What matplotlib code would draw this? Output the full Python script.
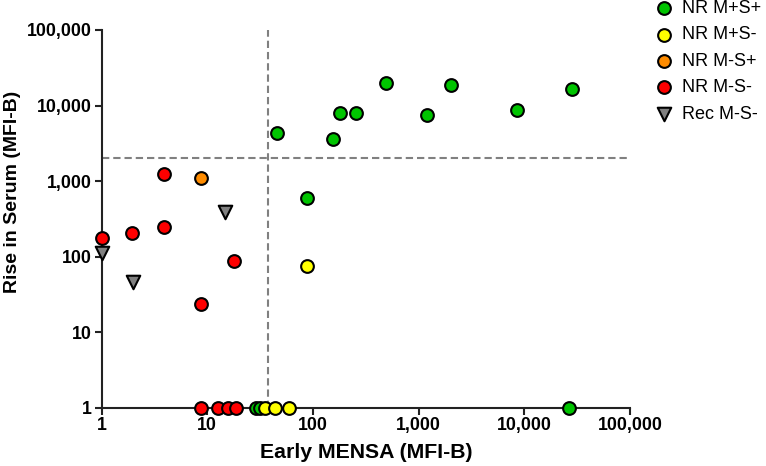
import matplotlib
matplotlib.use("Agg")
import matplotlib.pyplot as plt
from matplotlib.ticker import FixedLocator, FixedFormatter, NullLocator

plt.rcParams['font.family'] = ['Liberation Sans', 'DejaVu Sans']

# ---- data ----
series_labels = ["NR M+S+", "NR M+S-", "NR M-S+", "NR M-S-", "Rec M-S-"]
series_colors = ["#00c400", "#ffff00", "#ff8c00", "#ff0000", "#808080"]
series_markers = ["o", "o", "o", "o", "v"]

nr_mpsp_x = [45.4, 156, 182, 257, 487, 1199, 2040, 8550, 28400, 87.4, 29, 31.6, 26600]
nr_mpsp_y = [4345, 3620, 8053, 8053, 19650, 7513, 18880, 8750, 16700, 594, 1, 1, 1]

nr_mpsm_x = [87.4, 35.5, 44, 59]
nr_mpsm_y = [74.5, 1, 1, 1]

nr_mmsp_x = [8.83]
nr_mmsp_y = [1082]

nr_mmsm_x = [1, 1.95, 3.9, 3.94, 18.0, 8.71, 8.71, 12.7, 15.9, 18.8]
nr_mmsm_y = [175, 205, 1233, 244, 86.7, 23.9, 1, 1, 1, 1]

rec_mmsm_x = [1, 2, 14.8]
rec_mmsm_y = [110, 46, 390]

mensa_cutoff = 37.3
serum_cutoff = 2000

tick_values = [1, 10, 100, 1000, 10000, 100000]
tick_labels = ["1", "10", "100", "1,000", "10,000", "100,000"]

xs = [nr_mpsp_x, nr_mpsm_x, nr_mmsp_x, nr_mmsm_x, rec_mmsm_x]
ys = [nr_mpsp_y, nr_mpsm_y, nr_mmsp_y, nr_mmsm_y, rec_mmsm_y]

# ---- figure ----
W, H = 766, 466
fig = plt.figure(figsize=(W / 100, H / 100), dpi=100)
left, right, top, bottom = 101.5, 630, 30, 407.7
ax = fig.add_axes([left / W, 1 - bottom / H, (right - left) / W, (bottom - top) / H])

ax.set_xscale('log')
ax.set_yscale('log')
ax.set_xlim(1, 1e5)
ax.set_ylim(1, 1e5)

ax.axvline(mensa_cutoff, color='#808080', lw=1.5, dashes=(3.5, 1.9), zorder=1)
ax.axhline(serum_cutoff, color='#808080', lw=1.5, dashes=(3.5, 1.9), zorder=1)

handles = []
for x, y, lab, c, m in zip(xs, ys, series_labels, series_colors, series_markers):
    s = 84 if m == "o" else 95
    h = ax.scatter(x, y, s=s, c=c, marker=m, edgecolors='black', linewidths=1.5,
                   label=lab, zorder=5, clip_on=False)
    handles.append(h)

for side in ['top', 'right']:
    ax.spines[side].set_visible(False)
for side in ['left', 'bottom']:
    ax.spines[side].set_linewidth(1.5)
    ax.spines[side].set_color('#222222')

for axis in (ax.xaxis, ax.yaxis):
    axis.set_major_locator(FixedLocator(tick_values))
    axis.set_major_formatter(FixedFormatter(tick_labels))
    axis.set_minor_locator(NullLocator())

ax.tick_params(axis='both', which='major', direction='out', length=5, width=1.5,
               color='#222222', labelsize=12.8, pad=2)
for lbl in ax.get_xticklabels() + ax.get_yticklabels():
    lbl.set_fontweight('bold')

ax.set_xlabel("Early MENSA (MFI-B)", fontsize=15.3, fontweight='bold')
ax.set_ylabel("Rise in Serum (MFI-B)", fontsize=14, fontweight='bold')
ax.xaxis.label.set_va('center')
ax.yaxis.label.set_va('center')
ax.xaxis.set_label_coords(0.5, (bottom - 453) / (bottom - top))
ax.yaxis.set_label_coords((12.5 - left) / (right - left), (bottom - 192) / (bottom - top))

leg = fig.legend(handles=handles, loc='upper left',
                 bbox_to_anchor=(655 / W, 1 - 0 / H),
                 frameon=False, fontsize=13, handlelength=1.0, handletextpad=0.5,
                 labelspacing=0.52, borderpad=0, borderaxespad=0, scatterpoints=1)

fig.savefig("out.png", dpi=100)
